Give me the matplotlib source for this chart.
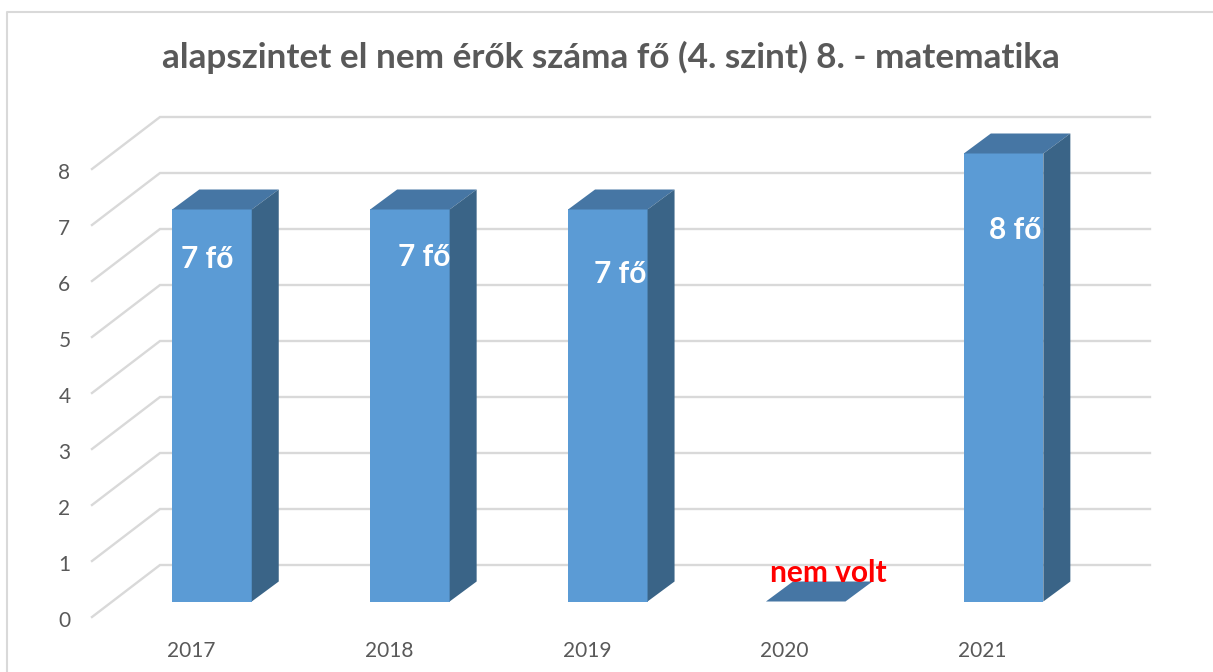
import matplotlib
matplotlib.use("Agg")
import matplotlib.pyplot as plt
from matplotlib.patches import Polygon
from matplotlib.lines import Line2D
from matplotlib.transforms import ScaledTranslation

years = ["2017", "2018", "2019", "2020", "2021"]
values = [7, 7, 7, 0, 8]
point_labels = ["7 fő", "7 fő", "7 fő", "nem volt", "8 fő"]
label_colors = ["white", "white", "white", "red", "white"]
y_ticks = [0, 1, 2, 3, 4, 5, 6, 7, 8]
title = "alapszintet el nem érők száma fő (4. szint) 8. - matematika"

plt.rcParams["font.family"] = ["Lato", "DejaVu Sans"]
W, H = 1213, 672
fig = plt.figure(figsize=(W / 100, H / 100), dpi=100, facecolor="white")

# pixel geometry of the plot
L, R, T, B = 92, 1150, 117, 617
ax = fig.add_axes([L / W, 1 - B / H, (R - L) / W, (B - T) / H])
PX_V = 56.0          # pixels per unit value
PX_C = 197.9         # pixels per category
ZERO = 601.5         # pixel row of value 0 at the bar front
C0 = 212.0           # pixel column of the first bar centre
ax.set_xlim((L - C0) / PX_C, (R - C0) / PX_C)
ax.set_ylim((ZERO - B) / PX_V, (ZERO - T) / PX_V)
for s in ax.spines.values():
    s.set_visible(False)
ax.patch.set_alpha(0)

dx, dy = 27 / PX_C, 20 / PX_V          # bar depth
width = 79.5 / PX_C
GRID = "#d9d9d9"
fx0 = ax.get_xlim()[0]
bx0 = (160 - C0) / PX_C
bx1 = ax.get_xlim()[1]
g_front = (ZERO - B) / PX_V
g_back = (ZERO - 565) / PX_V
for v in y_ticks:
    ax.plot([fx0, bx0, bx1], [g_front + v, g_back + v, g_back + v],
            color=GRID, lw=1.7, zorder=1, clip_on=False, solid_joinstyle="miter")

xs = list(range(len(years)))
ax.bar(xs, values, width=width, color="#5b9bd5", zorder=3)
for x, v in zip(xs, values):
    x0, x1 = x - width / 2, x + width / 2
    ax.add_patch(Polygon([(x0, v), (x1, v), (x1 + dx, v + dy), (x0 + dx, v + dy)],
                         closed=True, fc="#4676a4", ec="none", zorder=3))
    if v > 0:
        ax.add_patch(Polygon([(x1, 0), (x1 + dx, dy), (x1 + dx, v + dy), (x1, v)],
                             closed=True, fc="#3a6487", ec="none", zorder=3))

ax.set_yticks([g_front + v for v in y_ticks], [str(v) for v in y_ticks])
ax.set_xticks([x - 20 / PX_C for x in xs], years)
ax.tick_params(axis="both", length=0, labelsize=15, labelcolor="#595959")
ax.tick_params(axis="y", pad=15.5)
ax.tick_params(axis="x", pad=17)
shift = ScaledTranslation(0, -2 / 100, fig.dpi_scale_trans)
for lab in ax.get_yticklabels():
    lab.set_transform(lab.get_transform() + shift)
shift_x = ScaledTranslation(-1 / 100, 0, fig.dpi_scale_trans)
for lab in ax.get_xticklabels():
    lab.set_transform(lab.get_transform() + shift_x)

# label offsets from each bar's top-centre, in pixels
offsets = [(-5, -50), (14, -48), (12, -65), (23, 28), (12, -77)]
for x, v, t, c, (ox, oy) in zip(xs, values, point_labels, label_colors, offsets):
    ax.annotate(t, (x, v), xytext=(ox * 0.72, oy * 0.72), textcoords="offset points",
                ha="center", va="center", fontsize=21.5, fontweight="bold",
                color=c, zorder=5)

fig.text(611 / W, 1 - 57.5 / H, title, ha="center", va="center",
         fontsize=25.3, fontweight="bold", color="#595959")

# chart frame: top and left edges
fig.add_artist(Line2D([7 / W, 7 / W, 1], [0, 1 - 11.5 / H, 1 - 11.5 / H],
                      color=GRID, lw=1.5, transform=fig.transFigure))

fig.savefig("out.png", dpi=100)
